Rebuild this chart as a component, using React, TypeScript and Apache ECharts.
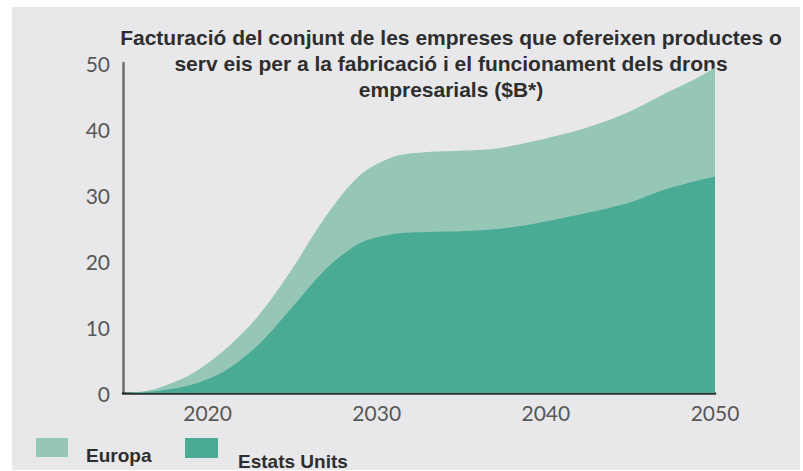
import React, { useEffect, useRef } from "react";
import * as echarts from "echarts";

const titleLines = [
  "Facturació del conjunt de les empreses que ofereixen productes o",
  "serv eis per a la fabricació i el funcionament dels drons",
  "empresarials ($B*)",
];
const seriesNames = ["Europa", "Estats Units"];
const years = [2015, 2016, 2017, 2019, 2021, 2023, 2025, 2027, 2029, 2031, 2033, 2035, 2037, 2039, 2041, 2043, 2045, 2047, 2049, 2050];
const usValues = [0, 0.1, 0.3, 1.2, 3.3, 7.3, 13.0, 18.8, 22.7, 24.1, 24.4, 24.5, 24.8, 25.5, 26.5, 27.6, 28.9, 30.8, 32.2, 32.8];
const europaValues = [0, 0.1, 0.4, 1.6, 3.2, 4.4, 5.8, 8.0, 10.3, 11.7, 12.1, 12.2, 12.2, 12.5, 12.7, 13.1, 13.8, 14.5, 15.6, 16.5];
const xTickLabels = [2020, 2030, 2040, 2050];

const EUROPA_COLOR = "#95c6b6";
const US_COLOR = "#4aab95";

export default function App() {
  const ref = useRef<HTMLDivElement>(null);
  useEffect(() => {
    if (!ref.current) return;
    const chart = echarts.init(ref.current, null, { renderer: "svg" });
    const titleFont = "'Liberation Sans', Arial, sans-serif";
    // Europa is stacked on top of Estats Units: its upper edge is the sum of both.
    const stackedTop = years.map((y, i) => [y, +(usValues[i] + europaValues[i]).toFixed(2)]);
    chart.setOption({
      animation: false,
      backgroundColor: "transparent",
      grid: { left: 123, right: 88, top: 63, bottom: 78, containLabel: false },
      xAxis: {
        type: "value",
        min: 2015,
        max: 2050,
        interval: 5,
        axisLine: { show: true, lineStyle: { color: "#2d2d2d", width: 2.5 } },
        axisTick: { show: false },
        splitLine: { show: false },
        axisLabel: {
          color: "#575757",
          fontSize: 21,
          fontFamily: "Lato, 'Open Sans', sans-serif",
          margin: 9,
          formatter: (v: number) => (xTickLabels.includes(v) ? String(v) : ""),
        },
      },
      yAxis: {
        type: "value",
        min: 0,
        max: 50,
        interval: 10,
        axisLine: { show: true, lineStyle: { color: "#6e6e6e", width: 2.5 } },
        axisTick: { show: false },
        splitLine: { show: false },
        axisLabel: {
          color: "#575757",
          fontSize: 21,
          fontFamily: "Lato, 'Open Sans', sans-serif",
          margin: 13,
        },
      },
      series: [
        {
          name: seriesNames[0],
          type: "line",
          smooth: 0.3,
          symbol: "none",
          lineStyle: { width: 0 },
          areaStyle: { color: EUROPA_COLOR, opacity: 1 },
          z: 2,
          data: stackedTop,
        },
        {
          name: seriesNames[1],
          type: "line",
          smooth: 0.3,
          symbol: "none",
          lineStyle: { width: 0 },
          areaStyle: { color: US_COLOR, opacity: 1 },
          z: 3,
          data: years.map((y, i) => [y, usValues[i]]),
        },
      ],
      graphic: [
        ...titleLines.map((t, i) => ({
          type: "text",
          x: 451,
          y: 37 + i * 26,
          style: {
            text: t,
            fill: "#2e2e2e",
            font: `bold 21px ${titleFont}`,
            textAlign: "center",
            textVerticalAlign: "middle",
          },
        })),
        { type: "rect", shape: { x: 36, y: 438, width: 32, height: 19 }, style: { fill: EUROPA_COLOR } },
        {
          type: "text",
          x: 86,
          y: 455,
          style: { text: seriesNames[0], fill: "#2e2e2e", font: `bold 19px ${titleFont}`, textVerticalAlign: "middle" },
        },
        { type: "rect", shape: { x: 185, y: 438, width: 33, height: 20 }, style: { fill: US_COLOR } },
        {
          type: "text",
          x: 238,
          y: 461,
          style: { text: seriesNames[1], fill: "#2e2e2e", font: `bold 19px ${titleFont}`, textVerticalAlign: "middle" },
        },
      ],
    });
    return () => chart.dispose();
  }, []);
  return (
    <div style={{ position: "absolute", left: 0, top: 0, width: 803, height: 471, background: "#ffffff", overflow: "hidden" }}>
      <div style={{ position: "absolute", left: 12, top: 7, width: 788, height: 463, background: "#e8e8ea" }} />
      <div ref={ref} style={{ position: "absolute", left: 0, top: 0, width: 803, height: 471 }} />
    </div>
  );
}
